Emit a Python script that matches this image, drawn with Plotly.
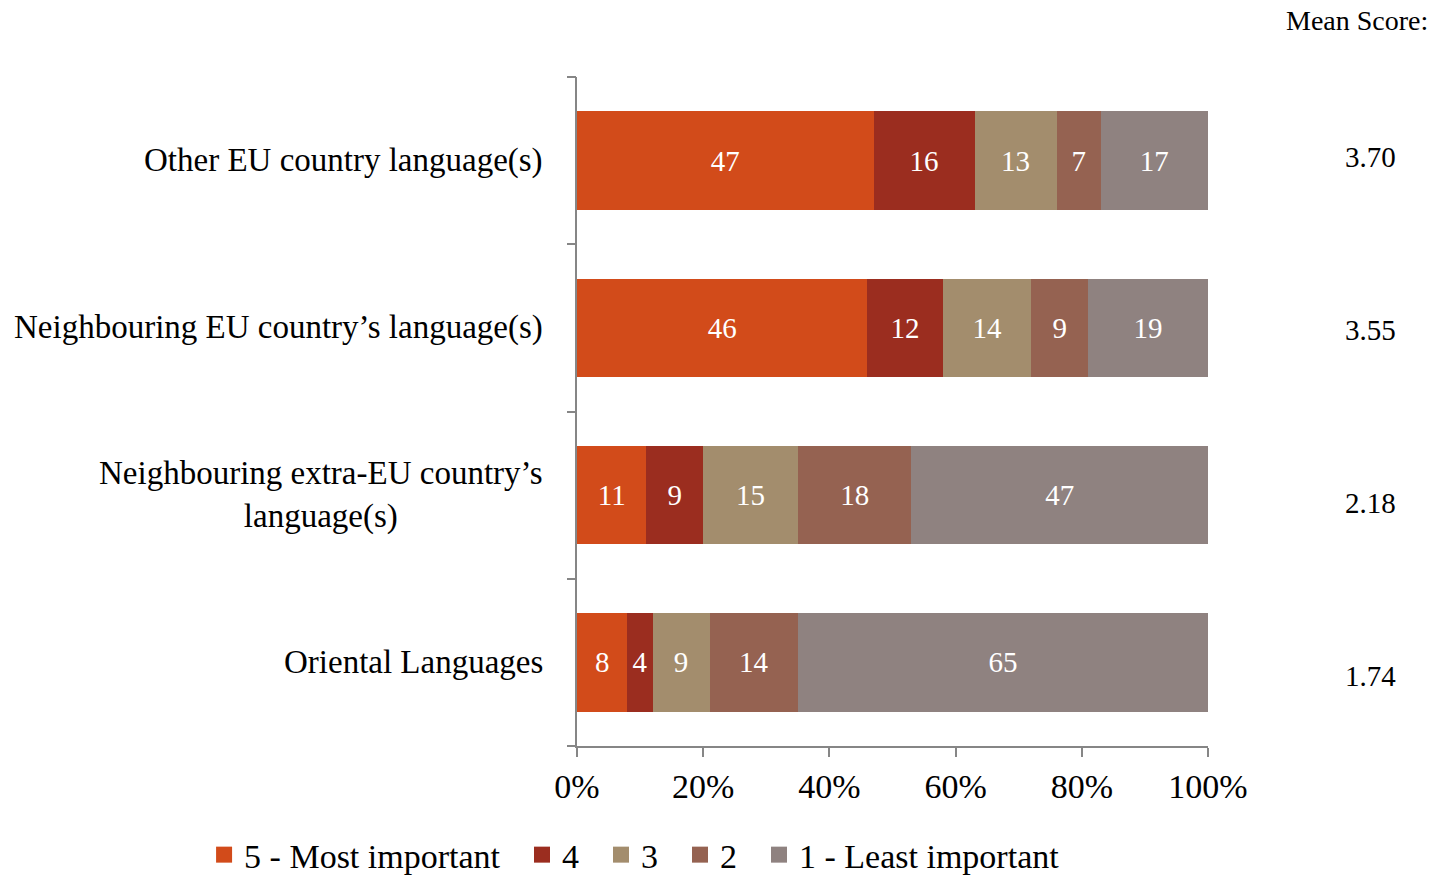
import plotly.graph_objects as go

categories = ["Other EU country language(s)",
              "Neighbouring EU country’s language(s)",
              "Neighbouring extra-EU country’s<br>language(s)",
              "Oriental Languages"]
series_names = ["5 - Most important", "4", "3", "2", "1 - Least important"]
values = [
    [47, 46, 11, 8],
    [16, 12, 9, 4],
    [13, 14, 15, 9],
    [7, 9, 18, 14],
    [17, 19, 47, 65],
]
mean_scores = ["3.70", "3.55", "2.18", "1.74"]
colors = ["#D24B1A", "#9B2D1F", "#A38D6D", "#956251", "#8F8280"]
x_ticks = [0, 20, 40, 60, 80, 100]

FONT = "Liberation Serif"
PAD = "\u00a0\u00a0"

fig = go.Figure()
for name, vals, col in zip(series_names, values, colors):
    fig.add_trace(go.Bar(
        y=categories, x=vals, name=name, orientation="h",
        marker=dict(color=col, line=dict(width=0)),
        text=[str(v) for v in vals], textposition="inside",
        insidetextanchor="middle", constraintext="none",
        textfont=dict(family=FONT, size=29, color="white"),
        hoverinfo="skip", showlegend=False,
    ))
# legend proxies with larger square symbols
for name, col in zip(series_names, colors):
    fig.add_trace(go.Scatter(x=[None], y=[None], mode="markers", name=name + PAD,
                             marker=dict(symbol="square", size=20, color=col),
                             hoverinfo="skip"))

# invisible trace to drive the boundary-tick axis
fig.add_trace(go.Scatter(x=[None], y=[None], yaxis="y2", mode="markers",
                         showlegend=False, hoverinfo="skip"))

annotations = []
for c in categories:
    annotations.append(dict(x=0, xref="paper", y=c, yref="y", xshift=-32,
                            text=c, showarrow=False, xanchor="right", yanchor="middle",
                            align="center", font=dict(family=FONT, size=33, color="black")))
for i, m in enumerate(mean_scores):
    annotations.append(dict(x=1.257, xref="paper", y=0.880 - i * 0.2586, yref="paper",
                            text=m, showarrow=False, xanchor="center", yanchor="middle",
                            font=dict(family=FONT, size=29, color="black")))
annotations.append(dict(x=1.352, xref="paper", y=1.085, yref="paper", text="Mean Score:",
                        showarrow=False, xanchor="right", yanchor="middle",
                        font=dict(family=FONT, size=28, color="black")))

fig.update_layout(
    barmode="stack",
    bargap=0.41,
    width=1435, height=867,
    margin=dict(l=569, r=235, t=69, b=129, autoexpand=False),
    paper_bgcolor="white", plot_bgcolor="white",
    font=dict(family=FONT, size=28, color="black"),
    xaxis=dict(range=[0, 100], tickvals=x_ticks, ticktext=[f"{t}%" for t in x_ticks],
               showgrid=False, zeroline=False, showline=True, linecolor="#868686", linewidth=2,
               ticks="outside", ticklen=9, tickwidth=2, tickcolor="#868686",
               tickfont=dict(family=FONT, size=34), fixedrange=True),
    yaxis=dict(categoryorder="array", categoryarray=categories[::-1],
               showticklabels=False, showgrid=False, zeroline=False, showline=True,
               linecolor="#868686", linewidth=2, ticks="", range=[-0.5, 3.5]),
    yaxis2=dict(overlaying="y", range=[-0.5, 3.5], tickvals=[-0.5, 0.5, 1.5, 2.5, 3.5],
                showticklabels=False, ticks="outside", ticklen=9, tickwidth=2,
                tickcolor="#868686", showgrid=False, zeroline=False, showline=False, side="left"),
    legend=dict(orientation="h", x=-0.591, xanchor="left", y=-0.163, yanchor="middle",
                font=dict(family=FONT, size=34), traceorder="normal",
                itemwidth=30, tracegroupgap=0, itemsizing="trace"),
    annotations=annotations,
    showlegend=True,
)

fig.write_html("out.html")
